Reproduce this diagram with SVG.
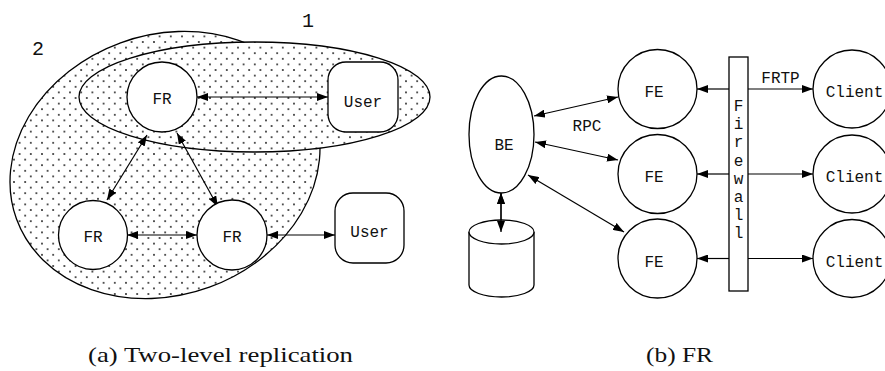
<svg xmlns="http://www.w3.org/2000/svg" width="885" height="371" viewBox="0 0 885 371">
  <style>
    .shape { fill: #fff; stroke: #000; stroke-width: 1.3; }
    .region { fill: url(#dots); stroke: #000; stroke-width: 1.3; }
    .mono { font-family: "Liberation Mono", "Courier New", monospace; font-size: 16px; fill: #111; }
    .tag { font-family: "Liberation Mono", "Courier New", monospace; font-size: 20px; fill: #111; }
    .cap { font-family: "Liberation Serif", "Times New Roman", serif; font-size: 21px; fill: #111; }
    .arr { fill: none; stroke: #000; stroke-width: 1.2; marker-end: url(#ah); }
    .arr2 { fill: none; stroke: #000; stroke-width: 1.2; marker-start: url(#ah); marker-end: url(#ah); }
  </style>
  <defs>
    <!-- stippled fill of the replication domains -->
    <pattern id="dots" patternUnits="userSpaceOnUse" width="11.2" height="11.2">
      <rect width="11.2" height="11.2" fill="#fff"/>
      <circle cx="2.8" cy="2.8" r="0.85" fill="#000"/>
      <circle cx="8.4" cy="8.4" r="0.85" fill="#000"/>
    </pattern>
    <marker id="ah" markerUnits="userSpaceOnUse" markerWidth="11" markerHeight="8" refX="11" refY="4" orient="auto-start-reverse">
      <path d="M0,0 L11,4 L0,8 z" fill="#000"/>
    </marker>
  </defs>

  <rect width="885" height="371" fill="#fff"/>

  <!-- (a) two-level replication: replication domains -->
  <g id="domain-2">
    <path class="region" d="M313.5,111 A158,130 -20 1,1 16.5,219 A158,130 -20 1,1 313.5,111 Z"/>
    <text class="tag" x="38" y="55" text-anchor="middle">2</text>
  </g>
  <g id="domain-1">
    <ellipse class="region" cx="254.5" cy="97" rx="175.5" ry="55"/>
    <text class="tag" x="308" y="27" text-anchor="middle">1</text>
  </g>

  <g id="connectors-a">
    <line class="arr2" x1="197" y1="97" x2="328" y2="97"/>
    <line class="arr2" x1="147" y1="135" x2="107" y2="200"/>
    <line class="arr2" x1="177" y1="133" x2="218" y2="207"/>
    <line class="arr2" x1="127" y1="235" x2="197" y2="235"/>
    <line class="arr2" x1="267" y1="235" x2="335" y2="235"/>
  </g>

  <g id="fr-top">
    <circle class="shape" cx="162" cy="97" r="35"/>
    <text class="mono" x="162" y="104" text-anchor="middle">FR</text>
  </g>
  <g id="user-top">
    <rect class="shape" x="328" y="62" width="70" height="70" rx="18"/>
    <text class="mono" x="363" y="107" text-anchor="middle">User</text>
  </g>
  <g id="fr-left">
    <circle class="shape" cx="93" cy="235" r="34.5"/>
    <text class="mono" x="93" y="242" text-anchor="middle">FR</text>
  </g>
  <g id="fr-mid">
    <circle class="shape" cx="232" cy="235" r="35"/>
    <text class="mono" x="232" y="242" text-anchor="middle">FR</text>
  </g>
  <g id="user-bottom">
    <rect class="shape" x="335" y="193" width="69" height="70" rx="18"/>
    <text class="mono" x="369.5" y="237" text-anchor="middle">User</text>
  </g>

  <!-- (b) FR deployment -->
  <g id="connectors-b">
    <line class="arr2" x1="534" y1="116" x2="618" y2="97"/>
    <line class="arr2" x1="535" y1="142" x2="618" y2="160"/>
    <line class="arr2" x1="528" y1="175" x2="624" y2="232"/>
    <line class="arr2" x1="501" y1="193" x2="501" y2="232"/>
    <line class="arr" x1="729" y1="89" x2="697" y2="89"/>
    <line class="arr" x1="748" y1="89" x2="813" y2="89"/>
    <line class="arr" x1="729" y1="174" x2="697" y2="174"/>
    <line class="arr" x1="748" y1="174" x2="813" y2="174"/>
    <line class="arr" x1="729" y1="258.5" x2="697" y2="258.5"/>
    <line class="arr" x1="748" y1="258.5" x2="813" y2="258.5"/>
    <text class="mono" x="780.5" y="83" text-anchor="middle">FRTP</text>
    <text class="mono" x="587" y="130.5" text-anchor="middle">RPC</text>
  </g>

  <g id="be">
    <ellipse class="shape" cx="501.5" cy="134.5" rx="32.5" ry="58.5"/>
    <text class="mono" x="504" y="150" text-anchor="middle">BE</text>
  </g>
  <g id="store">
    <path class="shape" d="M469,232 L469,285 A32.5,12 0 0,0 534,285 L534,232"/>
    <ellipse class="shape" cx="501.5" cy="232" rx="32.5" ry="12"/>
  </g>
  <line class="arr2" x1="501" y1="193" x2="501" y2="232"/>

  <g id="fe-1">
    <circle class="shape" cx="657.5" cy="89" r="39.5"/>
    <text class="mono" x="654" y="97" text-anchor="middle">FE</text>
  </g>
  <g id="fe-2">
    <circle class="shape" cx="657.5" cy="174" r="39.5"/>
    <text class="mono" x="654" y="182" text-anchor="middle">FE</text>
  </g>
  <g id="fe-3">
    <circle class="shape" cx="657.5" cy="258.5" r="39.5"/>
    <text class="mono" x="654" y="267" text-anchor="middle">FE</text>
  </g>

  <g id="firewall">
    <rect class="shape" x="729" y="57" width="19" height="234"/>
    <g class="mono" text-anchor="middle">
      <text x="738.5" y="111">F</text>
      <text x="738.5" y="129.2">i</text>
      <text x="738.5" y="147.4">r</text>
      <text x="738.5" y="165.6">e</text>
      <text x="738.5" y="183.8">w</text>
      <text x="738.5" y="202">a</text>
      <text x="738.5" y="220.2">l</text>
      <text x="738.5" y="238.4">l</text>
    </g>
  </g>

  <g id="client-1">
    <circle class="shape" cx="852" cy="89" r="39"/>
    <text class="mono" x="854.5" y="97" text-anchor="middle">Client</text>
  </g>
  <g id="client-2">
    <circle class="shape" cx="852" cy="174" r="39"/>
    <text class="mono" x="854.5" y="182" text-anchor="middle">Client</text>
  </g>
  <g id="client-3">
    <circle class="shape" cx="852" cy="258.5" r="39"/>
    <text class="mono" x="854.5" y="267" text-anchor="middle">Client</text>
  </g>

  <!-- sub-figure captions -->
  <text class="cap" x="88" y="362" textLength="265" lengthAdjust="spacingAndGlyphs">(a) Two-level replication</text>
  <text class="cap" x="646" y="362" textLength="67" lengthAdjust="spacingAndGlyphs">(b) FR</text>
</svg>
